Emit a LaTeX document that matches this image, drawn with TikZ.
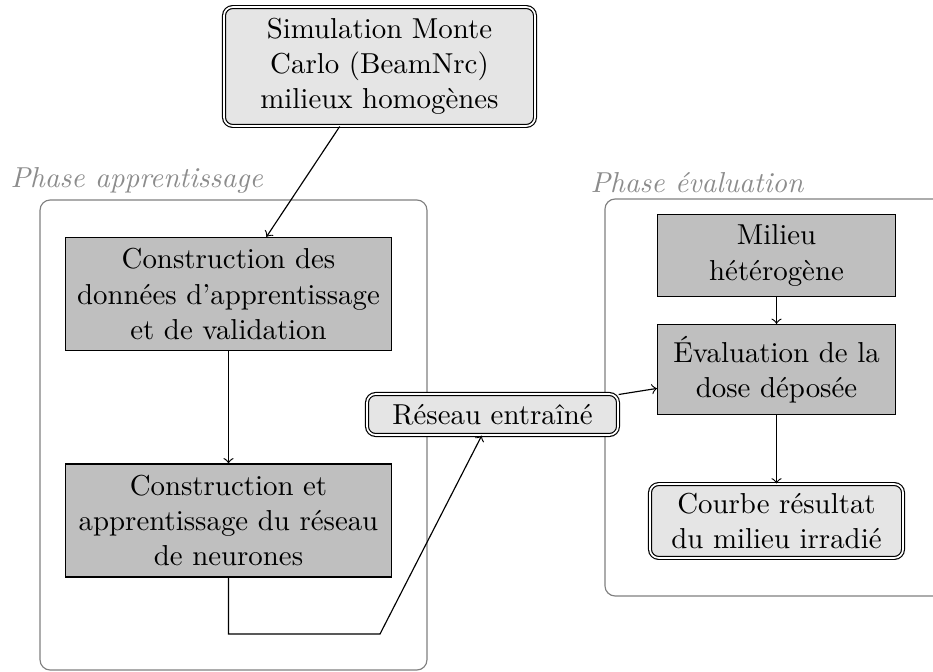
\documentclass[tikz,border=0pt]{standalone}
\usetikzlibrary{arrows}
\begin{document}
\begin{tikzpicture}[x=0.3466pt, y=-0.3466pt,
  every node/.style={font=\fontsize{10}{12.2}\selectfont},
  stepbox/.style={draw, fill=gray!50, align=center, inner sep=1pt},
  endbox/.style={draw, double, fill=gray!20, rounded corners=3pt, align=center, inner sep=1pt},
  phasebox/.style={draw=gray, rounded corners=3.5pt, inner sep=0pt},
  phaselabel/.style={text=gray!90, anchor=west, inner sep=0pt, font=\fontsize{10}{12}\selectfont\itshape},
  link/.style={->}]
  \clip (0,0) rectangle (933,671);

  % phase frames and their titles
  \node[phasebox, minimum width=134.1pt, minimum height=162.9pt] (learn) at (233.5,435) {};
  \node[phasebox, minimum width=124.8pt, minimum height=137.6pt] (evalphase) at (785,397.5) {};
  \node[phaselabel] (learnlabel) at (10,180) {Phase apprentissage};
  \node[phaselabel] (evallabel) at (590,183) {Phase évaluation};

  % process boxes
  \node[endbox, minimum width=107.8pt, minimum height=41.2pt] (sim) at (379.5,66.5)
    {Simulation Monte\\Carlo (BeamNrc)\\milieux homogènes};
  \node[stepbox, minimum width=113pt, minimum height=39.2pt] (data) at (228.5,294)
    {Construction des\\données d'apprentissage\\et de validation};
  \node[stepbox, minimum width=113pt, minimum height=39.2pt] (train) at (228.5,520.5)
    {Construction et\\apprentissage du réseau\\de neurones};
  \node[endbox, minimum width=87pt, minimum height=14.2pt] (net) at (492.5,414.5)
    {Réseau entraîné};
  \node[stepbox, minimum width=82.5pt, minimum height=28.4pt] (medium) at (776.5,255.5)
    {Milieu\\hétérogène};
  \node[stepbox, minimum width=82.5pt, minimum height=31.2pt] (dose) at (776.5,369.5)
    {Évaluation de la\\dose déposée};
  \node[endbox, minimum width=87.7pt, minimum height=25.6pt] (curve) at (776.5,521)
    {Courbe résultat\\du milieu irradié};

  % connectors
  \coordinate (bend) at (380,634);
  \draw[link] (sim) -- (data);
  \draw[link] (data) -- (train);
  \draw[link] (train.south) |- (bend) -- (net);
  \draw[link] (net) -- (dose);
  \draw[link] (medium) -- (dose);
  \draw[link] (dose) -- (curve);
\end{tikzpicture}
\end{document}
